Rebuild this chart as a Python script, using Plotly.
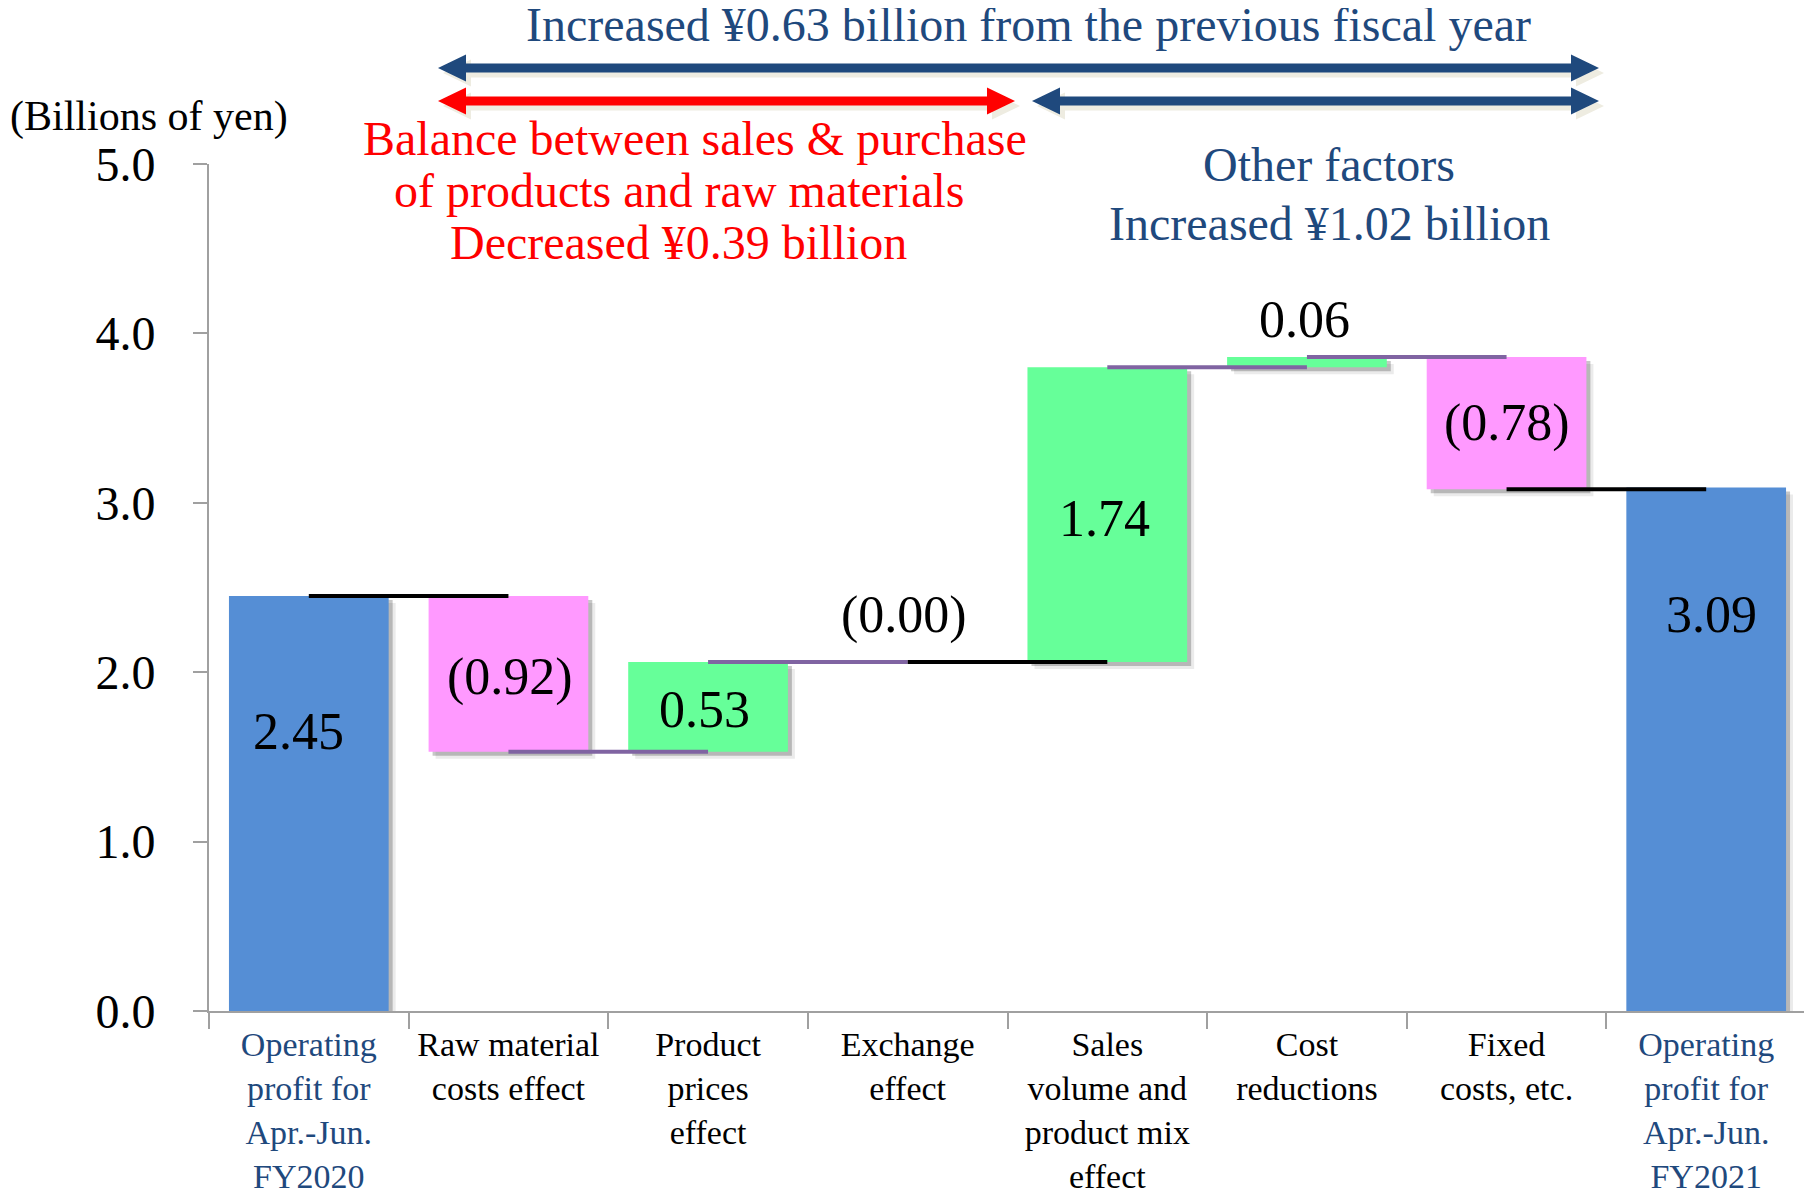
import plotly.graph_objects as go

# ---------------- data ----------------
CATEGORIES = [
    "Operating<br>profit for<br>Apr.-Jun.<br>FY2020",
    "Raw material<br>costs effect",
    "Product<br>prices<br>effect",
    "Exchange<br>effect",
    "Sales<br>volume and<br>product mix<br>effect",
    "Cost<br>reductions",
    "Fixed<br>costs, etc.",
    "Operating<br>profit for<br>Apr.-Jun.<br>FY2021",
]
START_VALUE = 2.45
DELTAS = [-0.92, 0.53, 0.00, 1.74, 0.06, -0.78]
END_VALUE = 3.09
VALUE_LABELS = ["2.45", "(0.92)", "0.53", "(0.00)", "1.74", "0.06", "(0.78)", "3.09"]
Y_TICKS = [0.0, 1.0, 2.0, 3.0, 4.0, 5.0]

# ---------------- styles ----------------
FONT = "Liberation Serif, Times New Roman, serif"
BLUE_BAR = "#558ED5"
PINK = "#FF99FF"
GREEN = "#66FF99"
NAVY = "#1F497D"
PURPLE = "#8064A2"
PAGE_OFF = 8                      # default body margin of the html page
W, H = 1812 - PAGE_OFF, 1199 - PAGE_OFF
ML, MR, MT, MB = 209 - PAGE_OFF, 6, 164 - PAGE_OFF, 188
PW, PH = W - ML - MR, H - MT - MB


def pxx(px):
    # page pixel -> paper x
    return (px - PAGE_OFF - ML) / PW


def pyy(py):
    # page pixel -> paper y
    return (H - MB - (py - PAGE_OFF)) / PH


def styled(cat, i):
    if i in (0, len(CATEGORIES) - 1):
        return '<span style="color:%s">%s</span>' % (NAVY, cat)
    return cat


xcats = [styled(c, i) for i, c in enumerate(CATEGORIES)]

# waterfall geometry from data
bases, heights, colors = [0.0], [START_VALUE], [BLUE_BAR]
levels = [START_VALUE]
lvl = START_VALUE
for d in DELTAS:
    new = round(lvl + d, 2)
    bases.append(min(lvl, new))
    heights.append(abs(d))
    colors.append(GREEN if d > 0 else PINK)
    lvl = new
    levels.append(lvl)
bases.append(0.0)
heights.append(END_VALUE)
colors.append(BLUE_BAR)

fig = go.Figure()

# soft shadows
cat_px = PW / len(CATEGORIES)
unit_px = PH / 5.0
for off, alpha in ((7, 0.08), (4, 0.22)):
    fig.add_trace(go.Bar(
        x=xcats, y=heights, base=[b - off / unit_px for b in bases],
        width=0.8, offset=-0.4 + off / cat_px,
        marker=dict(color="rgba(0,0,0,%s)" % alpha, line=dict(width=0)),
        hoverinfo="skip", showlegend=False))

fig.add_trace(go.Bar(
    x=xcats, y=heights, base=bases, width=0.8, offset=-0.4,
    marker=dict(color=colors, line=dict(width=0)),
    showlegend=False))

# connectors
conn_colors = ["#000000", PURPLE, PURPLE, "#000000", PURPLE, PURPLE, "#000000"]
for i, lv in enumerate(levels):
    fig.add_trace(go.Scatter(
        x=[xcats[i], xcats[i + 1]], y=[lv, lv], mode="lines",
        line=dict(color=conn_colors[i], width=4),
        hoverinfo="skip", showlegend=False))

# value labels
label_y = [1.65, 1.97, 1.78, 2.34, 2.91, 4.08, 3.47, 2.34]
label_dx = [-10, 2, -4, -4, -3, -2, 0, 5]
annotations = []
for i, t in enumerate(VALUE_LABELS):
    annotations.append(dict(
        x=xcats[i], y=label_y[i], xref="x", yref="y", text=t, showarrow=False,
        xshift=label_dx[i], font=dict(family=FONT, size=52, color="#000000"),
        xanchor="center", yanchor="middle"))

# header texts
def add_text(text, px, py, color, size, xanchor="center"):
    annotations.append(dict(
        x=pxx(px), y=pyy(py), xref="paper", yref="paper", text=text,
        showarrow=False, xanchor=xanchor, yanchor="middle",
        font=dict(family=FONT, size=size, color=color)))


add_text("Increased ¥0.63 billion from the previous fiscal year", 1028, 25, NAVY, 48)
add_text("Balance between sales &amp; purchase", 695, 138, "#FF0000", 48)
add_text("of products and raw materials", 679, 190, "#FF0000", 48)
add_text("Decreased ¥0.39 billion", 678, 242, "#FF0000", 48)
add_text("Other factors", 1329, 165, NAVY, 48)
add_text("Increased ¥1.02 billion", 1329, 223, NAVY, 48)
add_text("(Billions of yen)", PAGE_OFF, 116, "#000000", 42, xanchor="left")

# double-headed arrows
shapes = []


def arrow(x0, x1, yc, color, shaft=9, head=27, head_len=28, shadow=5):
    def path(dx, dy):
        s, hh = shaft / 2, head / 2
        pts = [(x0, yc), (x0 + head_len, yc - hh), (x0 + head_len, yc - s),
               (x1 - head_len, yc - s), (x1 - head_len, yc - hh), (x1, yc),
               (x1 - head_len, yc + hh), (x1 - head_len, yc + s),
               (x0 + head_len, yc + s), (x0 + head_len, yc + hh)]
        return "M " + " L ".join("%.5f,%.5f" % (pxx(a + dx), pyy(b + dy)) for a, b in pts) + " Z"
    shapes.append(dict(type="path", xref="paper", yref="paper", path=path(shadow, shadow),
                       fillcolor="#EEECE1", line=dict(width=0), layer="above"))
    shapes.append(dict(type="path", xref="paper", yref="paper", path=path(0, 0),
                       fillcolor=color, line=dict(width=0), layer="above"))


arrow(438, 1599, 68, NAVY)
arrow(438, 1015, 101, "#FF0000")
arrow(1032, 1599, 101, NAVY)

fig.update_layout(
    width=W, height=H, margin=dict(l=ML, r=MR, t=MT, b=MB, pad=0, autoexpand=False),
    paper_bgcolor="white", plot_bgcolor="white",
    barmode="overlay", bargap=0.2,
    annotations=annotations, shapes=shapes,
    font=dict(family=FONT, color="#000000"),
)
fig.update_xaxes(
    type="category", categoryorder="array", categoryarray=xcats,
    range=[-0.5, len(xcats) - 0.5], tickson="boundaries", tickangle=0,
    automargin=False,
    showline=True, linecolor="#A0A0A0", linewidth=2,
    ticks="outside", ticklen=16, tickwidth=2, tickcolor="#A0A0A0",
    showgrid=False, zeroline=False, ticklabelstandoff=2,
    tickfont=dict(family=FONT, size=34, color="#000000"),
)
fig.update_yaxes(
    range=[0, 5], tickvals=Y_TICKS, tickformat=".1f", automargin=False,
    showline=True, linecolor="#A0A0A0", linewidth=2,
    ticks="outside", ticklen=14, tickwidth=2, tickcolor="#A0A0A0",
    showgrid=False, zeroline=False, ticklabelstandoff=28,
    tickfont=dict(family=FONT, size=48, color="#000000"),
)

fig.write_html("out.html")
